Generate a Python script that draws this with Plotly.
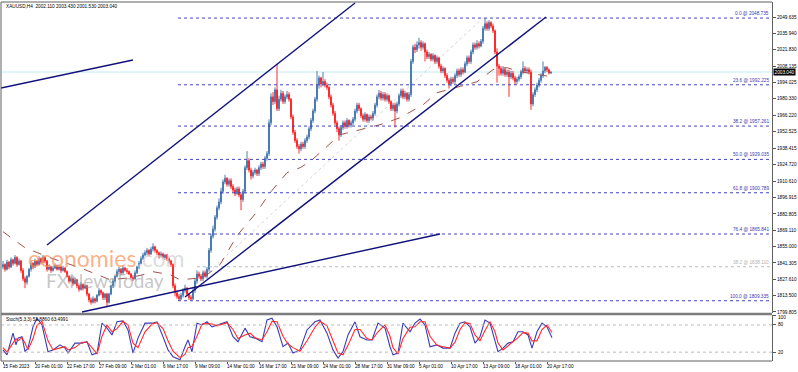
import plotly.graph_objects as go

# ---------------- data ----------------
header_text = "XAUUSD,H4  2002.110 2003.430 2001.530 2003.040"
stoch_title = "Stoch(5,3,3) 51.8860 63.4991"
last_price = 2003.04

first_open = 1838.0
closes = [
 1840,1836,1842,1838,1844,1841,1846,1840,1843,1835,
 1828,1825,1830,1836,1841,1838,1843,1840,1845,1842,
 1846,1843,1836,1838,1835,1837,1839,1836,1838,1835,
 1837,1834,1830,1826,1828,1824,1827,1822,1819,1823,
 1820,1822,1815,1810,1808,1811,1809,1814,1818,1816,
 1812,1815,1808,1815,1822,1826,1830,1834,1836,1833,
 1837,1835,1834,1832,1829,1828,1833,1838,1841,1845,
 1848,1850,1852,1849,1853,1855,1852,1850,1847,1849,
 1846,1848,1845,1843,1840,1822,1816,1813,1811,1814,
 1818,1820,1815,1812,1811,1818,1826,1832,1830,1828,
 1833,1830,1836,1852,1864,1870,1880,1888,1893,1902,
 1910,1913,1908,1911,1906,1903,1900,1904,1899,1895,
 1902,1922,1928,1920,1915,1918,1920,1917,1922,1925,
 1923,1930,1934,1960,1982,1978,1988,1972,1980,1985,
 1978,1982,1984,1980,1965,1952,1945,1940,1938,1942,
 1940,1945,1948,1955,1962,1970,1980,1992,1998,1993,
 1995,1992,1990,1982,1975,1968,1960,1955,1950,1956,
 1960,1957,1962,1958,1960,1963,1970,1975,1972,1966,
 1963,1967,1962,1965,1964,1968,1975,1982,1985,1981,
 1984,1980,1983,1978,1972,1975,1970,1976,1983,1987,
 1982,1985,1980,1984,2012,2024,2022,2026,2028,2024,
 2027,2020,2016,2018,2014,2017,2012,2015,2008,2004,
 2006,2000,1996,1993,1997,1995,2000,2004,2001,2005,
 2003,2010,2015,2012,2020,2026,2024,2027,2025,2029,
 2040,2044,2040,2045,2042,2038,2020,2008,2006,2002,
 2005,2001,2003,1999,2002,1998,1995,1997,1999,2003,
 2006,2004,2005,2003,1976,1984,1988,1992,1996,2000,
 2004,2007,2005,2002.11,2003.04]
highs = [
 1843,1841,1844,1843,1846,1845,1848,1847,1845,1844,
 1837,1830,1831,1837,1843,1842,1845,1844,1847,1846,
 1848,1847,1844,1840,1839,1839,1841,1840,1840,1839,
 1839,1838,1835,1831,1830,1829,1829,1828,1823,1825,
 1824,1823,1823,1816,1812,1813,1812,1815,1820,1819,
 1817,1816,1816,1816,1823,1828,1831,1836,1838,1837,
 1839,1838,1837,1835,1833,1831,1835,1839,1843,1847,
 1850,1852,1854,1853,1855,1858,1856,1853,1851,1851,
 1850,1849,1849,1846,1844,1841,1824,1818,1815,1816,
 1820,1823,1821,1816,1814,1820,1828,1835,1834,1832,
 1835,1835,1838,1854,1866,1873,1882,1890,1896,1905,
 1912,1916,1914,1913,1913,1908,1905,1906,1906,1901,
 1904,1924,1936,1930,1922,1920,1922,1921,1924,1927,
 1927,1932,1936,1963,1985,1986,1990,2010,1983,1988,
 1987,1984,1987,1986,1981,1967,1954,1947,1942,1944,
 1944,1947,1950,1957,1964,1972,1982,2004,2000,1999,
 2003,1997,1994,1991,1984,1977,1970,1962,1957,1958,
 1962,1962,1964,1963,1962,1965,1972,1977,1977,1973,
 1968,1969,1968,1967,1967,1970,1977,1984,1988,1987,
 1986,1986,1985,1984,1979,1977,1977,1978,1985,1989,
 1989,1987,1986,1986,2014,2026,2027,2029,2032,2030,
 2029,2028,2022,2020,2019,2019,2018,2017,2016,2010,
 2008,2007,2002,1998,1999,1999,2002,2006,2006,2007,
 2007,2012,2017,2017,2022,2028,2028,2030,2029,2031,
 2042,2048.735,2046,2047,2046,2044,2039,2023,2010,2008,
 2008,2007,2005,2005,2004,2004,2000,1999,2001,2005,
 2012,2008,2007,2007,2005,1986,1990,1994,1998,2002,
 2012,2008,2008,2006,2003.43]
lows = [
 1836,1834,1835,1836,1837,1839,1840,1838,1839,1833,
 1826,1820,1823,1829,1834,1836,1837,1839,1839,1840,
 1841,1841,1834,1835,1833,1834,1836,1835,1835,1833,
 1834,1833,1829,1824,1825,1822,1823,1820,1817,1818,
 1818,1819,1813,1808,1806,1807,1807,1808,1813,1814,
 1810,1810,1804,1807,1814,1820,1824,1829,1832,1831,
 1832,1834,1832,1831,1828,1826,1827,1832,1836,1840,
 1844,1847,1848,1847,1848,1851,1850,1848,1845,1846,
 1845,1844,1843,1841,1838,1820,1813,1811,1809.335,1810,
 1812,1816,1813,1810,1809.5,1810,1816,1824,1828,1826,
 1826,1829,1828,1834,1850,1862,1868,1878,1886,1891,
 1900,1908,1906,1906,1904,1901,1898,1899,1897,1886,
 1893,1900,1920,1918,1912,1913,1916,1915,1915,1920,
 1921,1921,1928,1932,1958,1975,1976,1970,1970,1978,
 1976,1976,1980,1978,1963,1950,1943,1938,1934,1936,
 1938,1938,1943,1946,1953,1960,1968,1978,1989,1990,
 1991,1990,1988,1980,1973,1966,1958,1952,1945,1948,
 1954,1955,1955,1956,1956,1958,1961,1968,1970,1964,
 1961,1961,1960,1960,1962,1962,1966,1973,1980,1979,
 1979,1978,1978,1976,1970,1970,1956,1968,1974,1981,
 1980,1980,1978,1978,1982,2010,2019,2020,2023,2021,
 2022,2012,2014,2014,2012,2012,2010,2010,2006,2002,
 2002,1998,1994,1989,1991,1993,1993,1998,1999,1999,
 2001,2002,2008,2010,2010,2018,2022,2022,2023,2024,
 2027,2038,2038,2038,2040,2036,2018,1994,2000,2000,
 2000,1999,1999,1982,1997,1996,1992,1993,1995,1997,
 2001,2002,2002,2001,1971,1974,1982,1986,1990,1994,
 1998,2002,2003,2001,2001.53]
opens = [first_open] + closes[:-1]   # each H4 bar opens at the previous close
bar_idx = list(range(len(closes)))

# moving average (dashed)
ma_x = [0, 11, 23.5, 38.5, 53.5, 63.5, 70, 75, 83.5, 88.5, 100, 108.5, 117, 127, 133.5,
        142, 148.5, 153.5, 168.5, 188.5, 198.5, 210, 217, 228.5, 237, 245, 252, 258.5, 267, 274]
ma_v = [1867.8, 1854.2, 1845.8, 1837.3, 1827.1, 1828.8, 1831.4, 1833.9, 1831.4, 1827.1,
        1828.8, 1839.9, 1864.4, 1884.7, 1900.8, 1917.7, 1922.0, 1927.1, 1949.9, 1958.4,
        1964.3, 1975.3, 1985.5, 1990.6, 1994.8, 2005.0, 2006.7, 2003.3, 2000.8, 1999.1]

# stochastic (5,3,3)
stoch_x = [0,2,5,6.5,7.5,9.5,11,12.5,15,17,
           19.5,22.5,25,28.5,31,32.5,36,39.5,42,44.5,
           47,49.5,52,54.5,57,60,62.5,65,67.5,71,
           74.5,77,80,82.5,85,88.5,91,92.5,94.5,97,
           99.5,102,104.5,107,109.5,112,115,117.5,121,123.5,
           126,129.5,132,134.5,137,140,142.5,145,148.5,152,
           156,158.5,162,165,167.5,170,172.5,176,178.5,182,
           184.5,187.5,191,193.5,195,197.5,200,203.5,206,208.5,
           211,213.5,217,220,223.5,226,228.5,231,233.5,236,
           238.5,241,243.5,246,247.5,250,252.5,255,257.5,260,
           262.5,264.5,267,269.5,272,274.5]
stoch_k = [25,14,62,36,51,54,21,29,76,95,
           80,21,25,36,29,18,40,40,43,14,
           18,84,73,58,87,89,69,18,51,84,
           84,87,54,25,10,3,32,47,21,84,
           80,87,76,80,84,87,54,43,73,54,
           51,43,91,95,76,32,40,18,25,69,
           87,91,62,25,7,21,58,87,54,47,
           47,84,73,32,14,18,84,65,84,93,
           80,32,36,29,29,62,84,87,76,40,
           54,91,84,43,21,29,40,43,65,65,
           58,29,65,84,76,52]
stoch_d = [30,20,40,50,45,52,40,25,50,80,
           88,45,25,30,32,25,30,42,42,30,
           16,55,80,65,72,88,80,40,30,65,
           82,85,72,45,22,8,15,30,33,55,
           82,83,82,78,82,85,70,50,58,62,
           52,47,65,88,87,55,38,30,22,45,
           75,88,78,45,18,14,35,70,70,50,
           47,65,80,55,30,16,50,75,76,87,
           87,55,35,32,29,42,70,85,83,58,
           45,68,87,65,40,25,34,41,52,63,
           62,45,45,70,80,63.5]
stoch_levels = [80, 20]

# Fibonacci retracement
fib_pct = [0.0, 23.6, 38.2, 50.0, 61.8, 76.4, 100.0]
fib_price = [2048.735, 1992.225, 1957.261, 1929.035, 1900.789, 1865.841, 1809.335]
fib_start = 87.5
fib2_pct = 38.2
fib2_price = 1838.110
fib2_start = 97
fib_diag = [(87.5, 1809.335), (240, 2048.735)]

# trend / channel lines (bar index, price)
trend_lines = [
    [(22, 1856.5), (176, 2061.5)],     # upper channel line
    [(91, 1812.5), (271.5, 2049.6)],   # lower channel line
    [(-1, 1989.5), (65, 2013.2)],      # short line, top left
    [(39.5, 1799.8), (218.5, 1865.9)], # long support line, bottom
]

# axes
price_ticks = [2049.635, 2035.940, 2021.830, 2008.135, 1994.025, 1980.330, 1966.220,
               1952.525, 1938.415, 1924.720, 1910.610, 1896.915, 1882.805, 1869.110,
               1855.000, 1841.305, 1827.610, 1813.500, 1799.805]
time_tick_idx = [0, 16, 32, 48, 64, 80, 96, 112, 128, 144, 160, 176, 192, 208, 224, 240, 256, 272]
time_tick_text = ["15 Feb 2023", "20 Feb 01:00", "22 Feb 17:00", "27 Feb 09:00", "2 Mar 01:00",
                  "6 Mar 17:00", "9 Mar 09:00", "14 Mar 01:00", "16 Mar 17:00", "21 Mar 09:00",
                  "24 Mar 01:00", "28 Mar 17:00", "31 Mar 09:00", "5 Apr 01:00", "10 Apr 17:00",
                  "13 Apr 09:00", "18 Apr 01:00", "20 Apr 17:00"]

# ---------------- styling ----------------
W, H = 798, 372
ML, MR, MT, MB = 1, 26, 2, 11
PH = H - MT - MB
PW = W - ML - MR
def py(img_y):  # image y -> paper y
    return (H - MB - img_y) / PH
def px(img_x):  # image x -> paper x
    return (img_x - ML) / PW

UP = "#4a7cb3"
DN = "#ff2a2a"
NAVY = "#12127c"
FIBC = "#4646b4"
FONT = "Liberation Sans, Arial, sans-serif"
FS = 4.7

main_dom = [py(313), 1.0]
stoch_dom = [0.0, py(315)]

fig = go.Figure()
fig.add_trace(go.Candlestick(
    x=bar_idx, open=opens, high=highs, low=lows, close=closes,
    increasing=dict(line=dict(color=UP, width=1), fillcolor=UP),
    decreasing=dict(line=dict(color=DN, width=1), fillcolor=DN),
    whiskerwidth=0, showlegend=False, xaxis="x", yaxis="y"))
fig.add_trace(go.Scatter(x=ma_x, y=ma_v, mode="lines", showlegend=False,
                         line=dict(color="#a4524c", width=1, dash="dash"),
                         xaxis="x", yaxis="y"))
fig.add_trace(go.Scatter(x=stoch_x, y=stoch_k, mode="lines", showlegend=False,
                         line=dict(color="#3c3cb4", width=1.1), xaxis="x2", yaxis="y2"))
fig.add_trace(go.Scatter(x=stoch_x, y=stoch_d, mode="lines", showlegend=False,
                         line=dict(color="#ff2a2a", width=1.1), xaxis="x2", yaxis="y2"))

shapes = []
shapes.append(dict(type="line", xref="paper", yref="y", x0=0, x1=1, y0=last_price, y1=last_price,
                   line=dict(color="#c3ecef", width=1), layer="below"))
for p in fib_price:
    shapes.append(dict(type="line", xref="x", yref="y", x0=fib_start, x1=384.5, y0=p, y1=p,
                       line=dict(color=FIBC, width=1, dash="dot")))
shapes.append(dict(type="line", xref="x", yref="y", x0=fib2_start, x1=384.5, y0=fib2_price, y1=fib2_price,
                   line=dict(color="#bdbdbd", width=1, dash="dot")))
shapes.append(dict(type="line", xref="x", yref="y", x0=fib_diag[0][0], y0=fib_diag[0][1],
                   x1=fib_diag[1][0], y1=fib_diag[1][1], line=dict(color="#d4d4d4", width=1, dash="dot"),
                   layer="below"))
for (a, b) in trend_lines:
    shapes.append(dict(type="line", xref="x", yref="y", x0=a[0], y0=a[1], x1=b[0], y1=b[1],
                       line=dict(color=NAVY, width=1.4)))
for lv in stoch_levels:
    shapes.append(dict(type="line", xref="paper", yref="y2", x0=0, x1=1, y0=lv, y1=lv,
                       line=dict(color="#bcbcbc", width=1, dash="dot")))
shapes += [
    dict(type="line", xref="paper", yref="paper", x0=0, x1=0, y0=0, y1=1, line=dict(color="#606060", width=1)),
    dict(type="line", xref="paper", yref="paper", x0=0, x1=1, y0=1, y1=1, line=dict(color="#606060", width=1)),
    dict(type="rect", xref="paper", yref="paper", x0=0, x1=1, y0=py(315.2), y1=py(312.8),
         line=dict(width=0), fillcolor="#7c7c7c"),
    dict(type="line", xref="paper", yref="paper", x0=0, x1=1, y0=0, y1=0, line=dict(color="#606060", width=1)),
]

ann = []
ann.append(dict(xref="paper", yref="paper", x=px(4), y=py(6), xanchor="left", yanchor="middle",
                text=header_text, showarrow=False, font=dict(family=FONT, size=FS, color="#000")))
ann.append(dict(xref="paper", yref="paper", x=px(4), y=py(319.5), xanchor="left", yanchor="middle",
                text=stoch_title, showarrow=False, font=dict(family=FONT, size=FS, color="#000")))
for pc, p in zip(fib_pct, fib_price):
    ann.append(dict(xref="paper", yref="y", x=1, y=p, xanchor="right", yanchor="bottom", xshift=-1,
                    text=f"{pc:.1f} @ {p:.3f}", showarrow=False,
                    font=dict(family=FONT, size=FS, color="#3a3ab0")))
ann.append(dict(xref="paper", yref="y", x=1, y=fib2_price, xanchor="right", yanchor="bottom", xshift=-1,
                text=f"{fib2_pct:.1f} @ {fib2_price:.3f}", showarrow=False,
                font=dict(family=FONT, size=FS, color="#b4b4b4")))
ann.append(dict(xref="paper", yref="y", x=1, y=last_price, xanchor="left", yanchor="middle", xshift=1,
                text=f"{last_price:.3f}", showarrow=False, bgcolor="#000000", borderpad=0.6,
                font=dict(family=FONT, size=FS, color="#ffffff")))
for v, shift in [(100, -2), (80, 0), (20, 0), (0, 3)]:
    ann.append(dict(xref="paper", yref="y2", x=1, y=v, xanchor="left", yanchor="middle", xshift=4,
                    yshift=shift, text=str(v), showarrow=False,
                    font=dict(family=FONT, size=FS, color="#000")))
for i, t in zip(time_tick_idx, time_tick_text):
    ann.append(dict(xref="x2", yref="paper", x=i, y=0, xanchor="left", yanchor="top", xshift=-2, yshift=-1,
                    text=t, showarrow=False, font=dict(family=FONT, size=FS, color="#000")))
# watermark
ann.append(dict(xref="paper", yref="paper", x=px(26), y=py(258),
                xanchor="left", yanchor="middle", showarrow=False,
                text="<span style='color:rgba(246,150,92,0.72)'>economies</span>"
                     "<span style='color:rgba(205,205,205,0.7)'>.com</span>",
                font=dict(family="Lato, Open Sans, sans-serif", size=23)))
ann.append(dict(xref="paper", yref="paper", x=px(44), y=py(280),
                xanchor="left", yanchor="middle", showarrow=False,
                text="FXNewsToday", font=dict(family="Lato, Open Sans, sans-serif", size=19,
                                               color="rgba(150,150,150,0.55)")))

xr = [-1, 384.5]
fig.update_layout(
    width=W, height=H, margin=dict(l=ML, r=MR, t=MT, b=MB, autoexpand=False),
    paper_bgcolor="white", plot_bgcolor="white", showlegend=False,
    font=dict(family=FONT, size=FS, color="#000"),
    shapes=shapes, annotations=ann,
    xaxis=dict(domain=[0, 1], range=xr, anchor="y", showticklabels=False, showgrid=False,
               zeroline=False, rangeslider=dict(visible=False), fixedrange=True),
    xaxis2=dict(domain=[0, 1], range=xr, anchor="y2", matches="x", showgrid=False, zeroline=False,
                tickmode="array", tickvals=time_tick_idx, showticklabels=False,
                ticks="outside", ticklen=2, tickcolor="#555", tickwidth=1),
    yaxis=dict(domain=main_dom, range=[1798.95, 2062.34], side="right", anchor="x",
               tickmode="array", tickvals=price_ticks, ticktext=[f"{v:.3f}" for v in price_ticks],
               ticks="outside", ticklen=3, tickcolor="#555", tickwidth=1,
               tickfont=dict(family=FONT, size=FS, color="#000"),
               showgrid=False, zeroline=False, showline=True, linecolor="#606060", linewidth=1),
    yaxis2=dict(domain=stoch_dom, range=[0.5, 102], side="right", anchor="x2",
                tickmode="array", tickvals=[100, 80, 20, 0], showticklabels=False,
                ticks="outside", ticklen=3, tickcolor="#555", tickwidth=1,
                showgrid=False, zeroline=False, showline=True, linecolor="#606060", linewidth=1),
)

fig.write_html("out.html", config={"displayModeBar": False},
               post_script="document.body.style.margin='0';document.body.style.padding='0';")
